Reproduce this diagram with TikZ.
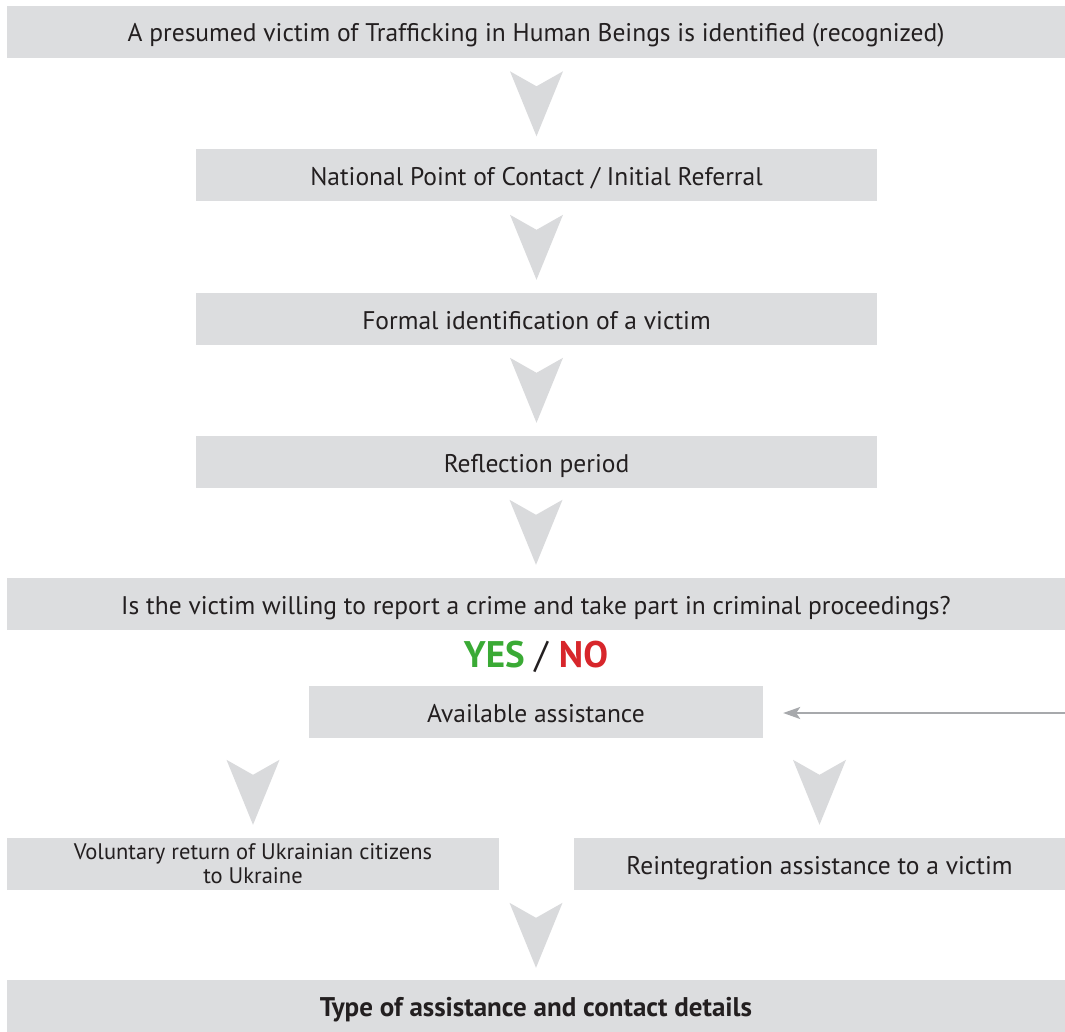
\documentclass[tikz,border=0pt]{standalone}
\usepackage{fontspec}
\setmainfont{PT Sans}
\usetikzlibrary{arrows.meta}
\definecolor{boxgray}{HTML}{DCDDDF}
\definecolor{chevgray}{HTML}{D9DADC}
\definecolor{linegray}{HTML}{A7A9AC}
\definecolor{yesgreen}{HTML}{3AAA35}
\definecolor{nored}{HTML}{D7262B}
\definecolor{inkgray}{HTML}{231F20}

\tikzset{
  panel/.style={fill=boxgray, inner sep=0pt, minimum height=52pt, text=inkgray, align=center},
  stage/.style={panel, font=\fontsize{25.5}{28}\selectfont, text height=24pt, text depth=4pt},
  chev/.pic={\fill[chevgray] (0,0) -- (-26.5,-65) -- (0,-50) -- (26.5,-65) -- cycle;},
  feedline/.style={draw=linegray, line width=1.8pt, -{Stealth[length=17pt, width=12pt, inset=4pt]}},
}

\begin{document}
\begin{tikzpicture}[x=1pt, y=-1pt]
      \useasboundingbox (0,0) rectangle (1065,1032);

      % Draw the stages of the referral
      \node[stage, minimum width=1058pt] (found) at (536,32) {A presumed victim of Trafficking in Human Beings is identified (recognized)};
      \node[stage, minimum width=681pt] (contact) at (536.5,175.5) {National Point of Contact / Initial Referral};
      \node[stage, minimum width=681pt] (formal) at (536.5,319) {Formal identification of a victim};
      \node[stage, minimum width=681pt] (reflect) at (536.5,462) {Reflection period};
      \node[stage, minimum width=1058pt] (willing) at (536,604) {Is the victim willing to report a crime and take part in criminal proceedings?};

      % Add the answer
      \node[font=\fontsize{37}{40}\selectfont] (answer) at (536,657)
        {\textbf{\color{yesgreen}YES} \color{inkgray}/ \textbf{\color{nored}NO}};

      \node[stage, minimum width=454pt] (avail) at (536,712) {Available assistance};
      \node[panel, minimum width=492pt, font=\fontsize{22.5}{24}\selectfont] (return) at (253,864) {Voluntary return of Ukrainian citizens\\to Ukraine};
      \node[stage, minimum width=491pt] (reinteg) at (819.5,864) {Reintegration assistance to a victim};
      \node[stage, minimum width=1058pt, font=\fontsize{27}{30}\selectfont\bfseries] (details) at (536,1006) {Type of assistance and contact details};

      % Add the chevrons
      \pic at ([yshift=13pt]contact.north) {chev};
      \pic at ([yshift=13pt]formal.north) {chev};
      \pic at ([yshift=13pt]reflect.north) {chev};
      \pic at ([yshift=13pt]willing.north) {chev};
      \pic at ([yshift=13pt]return.north) {chev};
      \pic at ([yshift=13pt]reinteg.north) {chev};
      \pic at ([yshift=12pt]details.north) {chev};

      % Add the feedback arrow
      \coordinate (feed) at (1065,713);
      \draw[feedline, shorten >=20pt] (feed) -- (feed -| avail.east);
\end{tikzpicture}
\end{document}
